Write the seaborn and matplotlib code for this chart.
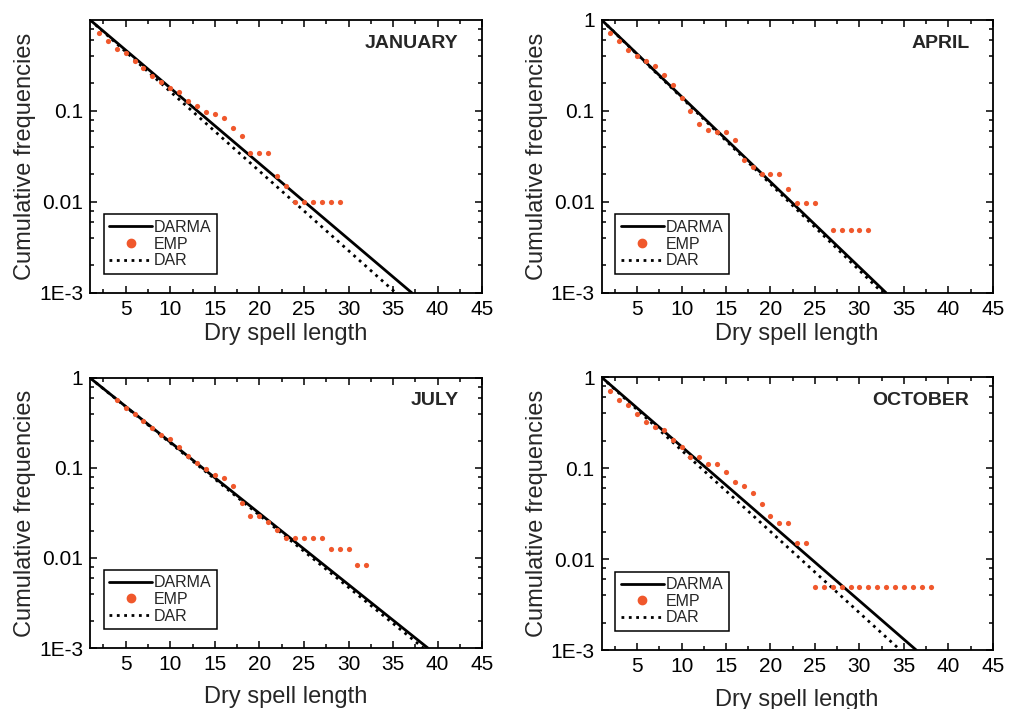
import numpy as np
import pandas as pd
import matplotlib
matplotlib.use("Agg")
import matplotlib.pyplot as plt
import matplotlib.ticker as mticker
from matplotlib.lines import Line2D
import seaborn as sns

# --- data ---
months = ["JANUARY", "APRIL", "JULY", "OCTOBER"]

# straight lines on log scale: start (1, 1) and end where they hit 1E-3
darma_x = {"JANUARY": [1, 37.1], "APRIL": [1, 33.0], "JULY": [1, 38.9], "OCTOBER": [1, 36.4]}
dar_x = {"JANUARY": [1, 35.3], "APRIL": [1, 32.6], "JULY": [1, 38.4], "OCTOBER": [1, 34.6]}
line_y = [1.0, 1e-3]

jan_x = list(range(2, 30))
jan_y = [0.72, 0.59, 0.48, 0.43, 0.35, 0.295, 0.24, 0.21, 0.178, 0.163, 0.127, 0.112,
         0.098, 0.093, 0.083, 0.064, 0.053, 0.034, 0.034, 0.034, 0.0194, 0.0148,
         0.0099, 0.0099, 0.0099, 0.0099, 0.0099, 0.0099]

apr_x = list(range(2, 26)) + list(range(27, 32))
apr_y = [0.72, 0.59, 0.47, 0.40, 0.35, 0.31, 0.25, 0.19, 0.139, 0.10, 0.072, 0.062,
         0.058, 0.058, 0.048, 0.029, 0.024, 0.020, 0.020, 0.020, 0.014, 0.0098,
         0.0098, 0.0098, 0.0049, 0.0049, 0.0049, 0.0049, 0.0049]

jul_x = list(range(4, 33))
jul_y = [0.57, 0.46, 0.40, 0.335, 0.28, 0.23, 0.21, 0.17, 0.135, 0.113, 0.097, 0.084,
         0.077, 0.063, 0.041, 0.0296, 0.0296, 0.0254, 0.0205, 0.0166, 0.0166, 0.0166,
         0.0166, 0.0166, 0.0125, 0.0125, 0.0125, 0.0084, 0.0084]

oct_x = list(range(2, 39))
oct_y = [0.71, 0.56, 0.49, 0.395, 0.32, 0.28, 0.26, 0.205, 0.17, 0.134, 0.134, 0.111,
         0.111, 0.09, 0.07, 0.064, 0.054, 0.040, 0.030, 0.025, 0.025, 0.0149, 0.0149,
         0.0049, 0.0049, 0.0049, 0.0049, 0.0049, 0.0049, 0.0049, 0.0049, 0.0049,
         0.0049, 0.0049, 0.0049, 0.0049, 0.0049]

emp = {"JANUARY": (jan_x, jan_y), "APRIL": (apr_x, apr_y),
       "JULY": (jul_x, jul_y), "OCTOBER": (oct_x, oct_y)}

emp_color = "#f0582c"

sns.set_style("ticks")
plt.rcParams["font.family"] = ["Liberation Sans", "DejaVu Sans"]

fig = plt.figure(figsize=(10.11, 7.09), dpi=100)

# axes rectangles (left, bottom, width, height) in figure fraction
rects = {
    "JANUARY": [0.089, 0.587, 0.388, 0.385],
    "APRIL": [0.595, 0.587, 0.387, 0.385],
    "JULY": [0.089, 0.086, 0.388, 0.381],
    "OCTOBER": [0.595, 0.083, 0.387, 0.385],
}

for m in months:
    ax = fig.add_axes(rects[m])
    ex, ey = emp[m]

    sns.lineplot(x=darma_x[m], y=line_y, ax=ax, color="black", lw=2.0, estimator=None)
    sns.lineplot(x=dar_x[m], y=line_y, ax=ax, color="black", lw=2.0,
                 linestyle=":", estimator=None)
    sns.scatterplot(x=ex, y=ey, ax=ax, color=emp_color, s=14, linewidth=0, zorder=3)

    ax.set_yscale("log")
    ax.set_xlim(1, 45)
    ax.set_ylim(1e-3, 1)

    ax.set_xticks([5, 10, 15, 20, 25, 30, 35, 40, 45])
    ax.xaxis.set_minor_locator(mticker.MultipleLocator(2.5))
    if m == "JANUARY":
        ax.set_yticks([1e-3, 1e-2, 1e-1])
        ax.set_yticklabels(["1E-3", "0.01", "0.1"])
    else:
        ax.set_yticks([1e-3, 1e-2, 1e-1, 1])
        ax.set_yticklabels(["1E-3", "0.01", "0.1", "1"])
    ax.yaxis.set_minor_locator(mticker.LogLocator(base=10, subs=(2, 4, 6, 8)))
    ax.yaxis.set_minor_formatter(mticker.NullFormatter())

    ax.tick_params(which="both", direction="in", top=True, right=True,
                   width=1.1, colors="black")
    ax.tick_params(which="major", length=5, labelsize=15, pad=5)
    ax.tick_params(which="minor", length=3)
    for sp in ax.spines.values():
        sp.set_visible(True)
        sp.set_linewidth(1.3)
        sp.set_color("black")

    ax.set_xlabel("Dry spell length", fontsize=17,
                  labelpad=3 if m in ("JANUARY", "APRIL") else 9)
    ax.set_ylabel("Cumulative frequencies", fontsize=17, labelpad=2)

    ax.text(0.94, 0.915, m, transform=ax.transAxes, ha="right", va="center",
            fontsize=14, fontweight="bold")

    handles = [
        Line2D([], [], color="black", lw=2.0),
        Line2D([], [], color=emp_color, marker="o", ls="none", markersize=6),
        Line2D([], [], color="black", lw=2.0, ls=":"),
    ]
    leg = ax.legend(handles, ["DARMA", "EMP", "DAR"], loc="lower left",
                    bbox_to_anchor=(0.035, 0.07), borderaxespad=0, fontsize=11.5,
                    frameon=True, fancybox=False, edgecolor="black",
                    handlelength=2.7, handletextpad=0.1, labelspacing=0.1,
                    borderpad=0.35)
    leg.get_frame().set_linewidth(1.1)
    leg.get_frame().set_alpha(1)

fig.savefig("out.png", dpi=100)
